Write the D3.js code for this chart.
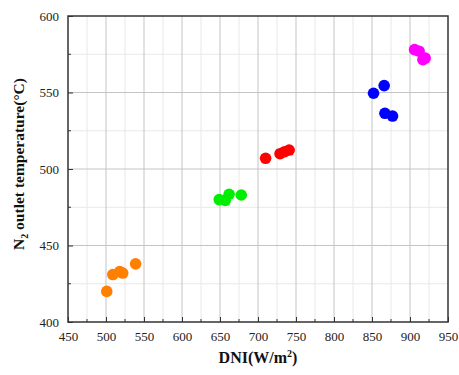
<!DOCTYPE html>
<html>
<head>
<meta charset="utf-8">
<script src="https://cdn.jsdelivr.net/npm/d3@7"></script>
<style>
  body { margin: 0; background: #fff; }
  svg { display: block; }
</style>
</head>
<body>
<div id="chart"></div>
<script>
// data, one array per colour group
const orangeDni = [501, 509, 518, 522, 539];
const orangeTemp = [420, 431, 433, 432, 438];
const greenDni = [649, 657, 662, 678];
const greenTemp = [480, 479.5, 483.5, 483];
const redDni = [710, 729, 735, 741];
const redTemp = [507, 510, 511.3, 512.4];
const blueDni = [852, 866, 867, 877];
const blueTemp = [549.5, 554.5, 536.4, 534.6];
const magentaDni = [906, 912, 917, 920];
const magentaTemp = [578, 577, 571.5, 572.5];

const xTicks = [450, 500, 550, 600, 650, 700, 750, 800, 850, 900, 950];
const yTicks = [400, 450, 500, 550, 600];

const groups = [
    { color: "#ff8000", dni: orangeDni, temp: orangeTemp },
    { color: "#00ee00", dni: greenDni, temp: greenTemp },
    { color: "#ff0000", dni: redDni, temp: redTemp },
    { color: "#0000ff", dni: blueDni, temp: blueTemp },
    { color: "#ff00ff", dni: magentaDni, temp: magentaTemp }
];

const W = 459, H = 375;
const margin = { top: 16, right: 11, bottom: 53, left: 68 };
const width = W - margin.left - margin.right;
const height = H - margin.top - margin.bottom;

const svg = d3.select("#chart").append("svg")
    .attr("width", W)
    .attr("height", H)
    .style("font-family", "'Liberation Serif', 'Times New Roman', serif");

const g = svg.append("g")
    .attr("transform", "translate(" + margin.left + "," + margin.top + ")");

const x = d3.scaleLinear().domain([450, 950]).range([0, width]);
const y = d3.scaleLinear().domain([400, 600]).range([height, 0]);

// minor grid (every 25)
const minorX = d3.range(475, 950, 50);
const minorY = d3.range(425, 600, 50);
g.append("g").selectAll("line").data(minorX).enter().append("line")
    .attr("x1", d => x(d)).attr("x2", d => x(d))
    .attr("y1", 0).attr("y2", height)
    .attr("stroke", "#e8e8e8").attr("stroke-width", 1);
g.append("g").selectAll("line").data(minorY).enter().append("line")
    .attr("y1", d => y(d)).attr("y2", d => y(d))
    .attr("x1", 0).attr("x2", width)
    .attr("stroke", "#e8e8e8").attr("stroke-width", 1);

// major grid
g.append("g").selectAll("line").data(xTicks.slice(1, -1)).enter().append("line")
    .attr("x1", d => x(d)).attr("x2", d => x(d))
    .attr("y1", 0).attr("y2", height)
    .attr("stroke", "#c4c4c4").attr("stroke-width", 1);
g.append("g").selectAll("line").data(yTicks.slice(1, -1)).enter().append("line")
    .attr("y1", d => y(d)).attr("y2", d => y(d))
    .attr("x1", 0).attr("x2", width)
    .attr("stroke", "#c4c4c4").attr("stroke-width", 1);

// points
groups.forEach(grp => {
    g.append("g").selectAll("circle")
        .data(grp.dni.map((d, i) => ({ dni: d, temp: grp.temp[i] })))
        .enter().append("circle")
        .attr("cx", d => x(d.dni))
        .attr("cy", d => y(d.temp))
        .attr("r", 5.8)
        .attr("fill", grp.color);
});

// axes with inward ticks
const xAxis = g.append("g")
    .attr("transform", "translate(0," + height + ")")
    .call(d3.axisBottom(x).tickValues(xTicks).tickSize(-5).tickPadding(10));
const yAxis = g.append("g")
    .call(d3.axisLeft(y).tickValues(yTicks).tickSize(-5).tickPadding(9));

// minor ticks
xAxis.append("g").selectAll("line").data(minorX).enter().append("line")
    .attr("x1", d => x(d)).attr("x2", d => x(d))
    .attr("y1", 0).attr("y2", -3)
    .attr("stroke", "#333");
yAxis.append("g").selectAll("line").data(minorY).enter().append("line")
    .attr("y1", d => y(d)).attr("y2", d => y(d))
    .attr("x1", 0).attr("x2", 3)
    .attr("stroke", "#333");

[xAxis, yAxis].forEach(a => {
    a.select(".domain").remove();
    a.selectAll(".tick line").attr("stroke", "#333");
    a.selectAll("text")
        .attr("fill", "#222")
        .style("font-size", "13px")
        .style("font-family", "'Liberation Serif', serif");
});

// frame
g.append("rect")
    .attr("x", 0).attr("y", 0)
    .attr("width", width).attr("height", height)
    .attr("fill", "none")
    .attr("stroke", "#333")
    .attr("stroke-width", 1.5);

// axis titles
const xTitle = svg.append("text")
    .attr("x", margin.left + width / 2)
    .attr("y", 363)
    .attr("text-anchor", "middle")
    .style("font-size", "16px")
    .style("font-weight", "bold")
    .attr("fill", "#111");
xTitle.append("tspan").text("DNI(W/m");
xTitle.append("tspan").attr("dy", -6).style("font-size", "10px").text("2");
xTitle.append("tspan").attr("dy", 6).text(")");

const yTitle = svg.append("text")
    .attr("transform", "translate(24,164) rotate(-90)")
    .attr("text-anchor", "middle")
    .style("font-size", "15.5px")
    .style("font-weight", "bold")
    .attr("fill", "#111");
yTitle.append("tspan").text("N");
yTitle.append("tspan").attr("dy", 4).style("font-size", "10px").text("2");
yTitle.append("tspan").attr("dy", -4).text(" outlet temperature(°C)");
</script>
</body>
</html>
